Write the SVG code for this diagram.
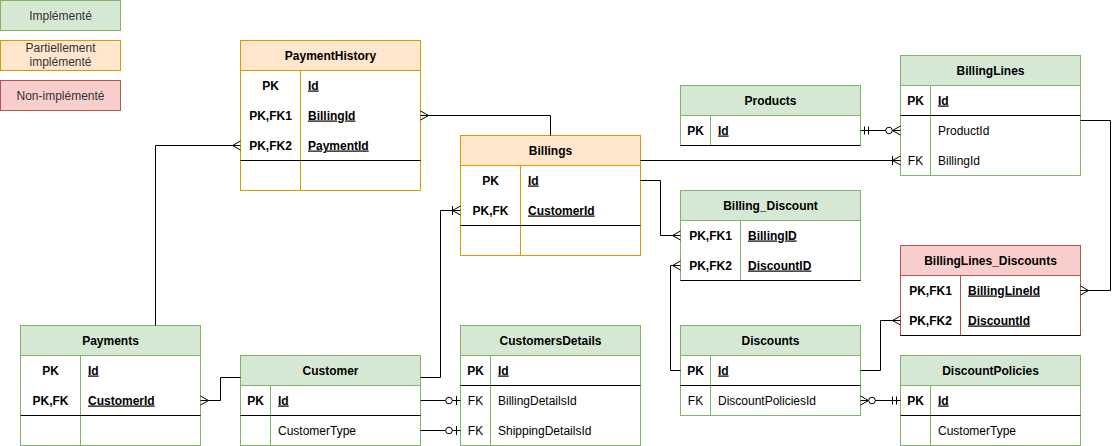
<svg xmlns="http://www.w3.org/2000/svg" width="1119" height="446" viewBox="0 0 1119 446">
<style>
text{font-family:"Liberation Sans",Arial,Helvetica,sans-serif;font-size:12px;fill:#000}
.lg{fill:#333333;text-anchor:middle}
.h{font-weight:bold;text-anchor:middle}
.kb{font-weight:bold;text-anchor:middle}
.k{text-anchor:middle}
.nb{font-weight:bold;text-decoration:underline}
.g .box{fill:#ffffff;stroke:#82b366}
.g .hd{fill:#d5e8d4;stroke:#82b366}
.g .dv{stroke:#82b366}
.o .box{fill:#ffffff;stroke:#d79b00}
.o .hd{fill:#ffe6cc;stroke:#d79b00}
.o .dv{stroke:#d79b00}
.r .box{fill:#ffffff;stroke:#b85450}
.r .hd{fill:#f8cecc;stroke:#b85450}
.r .dv{stroke:#b85450}
.sep{stroke:#000000;stroke-width:1}
.conn path{fill:none;stroke:#000000;stroke-width:1}
.mk{fill:none;stroke:#000000;stroke-width:1}
.mc{fill:#ffffff;stroke:#000000;stroke-width:1}
</style>
<defs>
<marker id="many" markerUnits="userSpaceOnUse" viewBox="-20 -10 22 20" refX="0" refY="0" markerWidth="22" markerHeight="20" orient="auto-start-reverse" overflow="visible">
<path class="mk" d="M0,-4.5 L-8,0 L0,4.5"/>
</marker>
<marker id="oneMany" markerUnits="userSpaceOnUse" viewBox="-20 -10 22 20" refX="0" refY="0" markerWidth="22" markerHeight="20" orient="auto-start-reverse" overflow="visible">
<path class="mk" d="M0,-4.5 L-8,0 L0,4.5 M-8,-4.5 L-8,4.5"/>
</marker>
<marker id="mandOne" markerUnits="userSpaceOnUse" viewBox="-20 -10 22 20" refX="0" refY="0" markerWidth="22" markerHeight="20" orient="auto-start-reverse" overflow="visible">
<path class="mk" d="M-4,-4 L-4,4 M-8,-4 L-8,4"/>
</marker>
<marker id="zeroMany" markerUnits="userSpaceOnUse" viewBox="-20 -10 22 20" refX="0" refY="0" markerWidth="22" markerHeight="20" orient="auto-start-reverse" overflow="visible">
<path class="mk" d="M0,-4.5 L-8,0 L0,4.5"/>
<circle class="mc" cx="-11.5" cy="0" r="3.3"/>
</marker>
<marker id="zeroOne" markerUnits="userSpaceOnUse" viewBox="-20 -10 22 20" refX="0" refY="0" markerWidth="22" markerHeight="20" orient="auto-start-reverse" overflow="visible">
<path class="mk" d="M-4,-4.5 L-4,4.5"/>
<circle class="mc" cx="-11.5" cy="0" r="3.3"/>
</marker>
</defs>

<g id="legend">
<g id="legend-implemented" class="g"><rect class="hd" x="0.5" y="0.5" width="120" height="30"/><text class="lg" x="60.5" y="19.5">Implémenté</text></g>
<g id="legend-partial" class="o"><rect class="hd" x="0.5" y="40.5" width="120" height="30"/><text class="lg" x="60.5" y="52">Partiellement</text><text class="lg" x="60.5" y="66">implémenté</text></g>
<g id="legend-not" class="r"><rect class="hd" x="0.5" y="80.5" width="120" height="30"/><text class="lg" x="60.5" y="99.5">Non-implémenté</text></g>
</g>

<g id="PaymentHistory" class="o">
<rect class="box" x="240.5" y="40.5" width="180" height="150"/>
<rect class="hd" x="240.5" y="40.5" width="180" height="30"/>
<line class="dv" x1="300.5" y1="70.5" x2="300.5" y2="190.5"/>
<line class="sep" x1="240.5" y1="160.5" x2="420.5" y2="160.5"/>
<text class="h" x="330.5" y="59.5">PaymentHistory</text>
<text class="kb" x="270.5" y="89.5">PK</text><text class="nb" x="308" y="89.5">Id</text>
<text class="kb" x="270.5" y="119.5">PK,FK1</text><text class="nb" x="308" y="119.5">BillingId</text>
<text class="kb" x="270.5" y="149.5">PK,FK2</text><text class="nb" x="308" y="149.5">PaymentId</text>
</g>

<g id="Billings" class="o">
<rect class="box" x="460.5" y="135.5" width="180" height="120"/>
<rect class="hd" x="460.5" y="135.5" width="180" height="30"/>
<line class="dv" x1="520.5" y1="165.5" x2="520.5" y2="255.5"/>
<line class="sep" x1="460.5" y1="225.5" x2="640.5" y2="225.5"/>
<text class="h" x="550.5" y="154.5">Billings</text>
<text class="kb" x="490.5" y="184.5">PK</text><text class="nb" x="528" y="184.5">Id</text>
<text class="kb" x="490.5" y="214.5">PK,FK</text><text class="nb" x="528" y="214.5">CustomerId</text>
</g>

<g id="Products" class="g">
<rect class="box" x="680.5" y="85.5" width="180" height="60"/>
<rect class="hd" x="680.5" y="85.5" width="180" height="30"/>
<line class="dv" x1="710.5" y1="115.5" x2="710.5" y2="145.5"/>
<line class="sep" x1="680.5" y1="145.5" x2="860.5" y2="145.5"/>
<text class="h" x="770.5" y="104.5">Products</text>
<text class="kb" x="695.5" y="134.5">PK</text><text class="nb" x="718" y="134.5">Id</text>
</g>

<g id="BillingLines" class="g">
<rect class="box" x="900.5" y="55.5" width="180" height="120"/>
<rect class="hd" x="900.5" y="55.5" width="180" height="30"/>
<line class="dv" x1="930.5" y1="85.5" x2="930.5" y2="175.5"/>
<line class="sep" x1="900.5" y1="115.5" x2="1080.5" y2="115.5"/>
<text class="h" x="990.5" y="74.5">BillingLines</text>
<text class="kb" x="915.5" y="104.5">PK</text><text class="nb" x="938" y="104.5">Id</text>
<text x="938" y="134.5">ProductId</text>
<text class="k" x="915.5" y="164.5">FK</text><text x="938" y="164.5">BillingId</text>
</g>

<g id="Billing_Discount" class="g">
<rect class="box" x="680.5" y="190.5" width="180" height="90"/>
<rect class="hd" x="680.5" y="190.5" width="180" height="30"/>
<line class="dv" x1="740.5" y1="220.5" x2="740.5" y2="280.5"/>
<line class="sep" x1="680.5" y1="280.5" x2="860.5" y2="280.5"/>
<text class="h" x="770.5" y="209.5">Billing_Discount</text>
<text class="kb" x="710.5" y="239.5">PK,FK1</text><text class="nb" x="748" y="239.5">BillingID</text>
<text class="kb" x="710.5" y="269.5">PK,FK2</text><text class="nb" x="748" y="269.5">DiscountID</text>
</g>

<g id="BillingLines_Discounts" class="r">
<rect class="box" x="900.5" y="245.5" width="180" height="90"/>
<rect class="hd" x="900.5" y="245.5" width="180" height="30"/>
<line class="dv" x1="960.5" y1="275.5" x2="960.5" y2="335.5"/>
<line class="sep" x1="900.5" y1="335.5" x2="1080.5" y2="335.5"/>
<text class="h" x="990.5" y="264.5">BillingLines_Discounts</text>
<text class="kb" x="930.5" y="294.5">PK,FK1</text><text class="nb" x="968" y="294.5">BillingLineId</text>
<text class="kb" x="930.5" y="324.5">PK,FK2</text><text class="nb" x="968" y="324.5">DiscountId</text>
</g>

<g id="Payments" class="g">
<rect class="box" x="20.5" y="325.5" width="180" height="120"/>
<rect class="hd" x="20.5" y="325.5" width="180" height="30"/>
<line class="dv" x1="80.5" y1="355.5" x2="80.5" y2="445.5"/>
<line class="sep" x1="20.5" y1="415.5" x2="200.5" y2="415.5"/>
<text class="h" x="110.5" y="344.5">Payments</text>
<text class="kb" x="50.5" y="374.5">PK</text><text class="nb" x="88" y="374.5">Id</text>
<text class="kb" x="50.5" y="404.5">PK,FK</text><text class="nb" x="88" y="404.5">CustomerId</text>
</g>

<g id="Customer" class="g">
<rect class="box" x="240.5" y="355.5" width="180" height="90"/>
<rect class="hd" x="240.5" y="355.5" width="180" height="30"/>
<line class="dv" x1="270.5" y1="385.5" x2="270.5" y2="445.5"/>
<line class="sep" x1="240.5" y1="415.5" x2="420.5" y2="415.5"/>
<text class="h" x="330.5" y="374.5">Customer</text>
<text class="kb" x="255.5" y="404.5">PK</text><text class="nb" x="278" y="404.5">Id</text>
<text x="278" y="434.5">CustomerType</text>
</g>

<g id="CustomersDetails" class="g">
<rect class="box" x="460.5" y="325.5" width="180" height="120"/>
<rect class="hd" x="460.5" y="325.5" width="180" height="30"/>
<line class="dv" x1="490.5" y1="355.5" x2="490.5" y2="445.5"/>
<line class="sep" x1="460.5" y1="385.5" x2="640.5" y2="385.5"/>
<text class="h" x="550.5" y="344.5">CustomersDetails</text>
<text class="kb" x="475.5" y="374.5">PK</text><text class="nb" x="498" y="374.5">Id</text>
<text class="k" x="475.5" y="404.5">FK</text><text x="498" y="404.5">BillingDetailsId</text>
<text class="k" x="475.5" y="434.5">FK</text><text x="498" y="434.5">ShippingDetailsId</text>
</g>

<g id="Discounts" class="g">
<rect class="box" x="680.5" y="325.5" width="180" height="90"/>
<rect class="hd" x="680.5" y="325.5" width="180" height="30"/>
<line class="dv" x1="710.5" y1="355.5" x2="710.5" y2="415.5"/>
<line class="sep" x1="680.5" y1="385.5" x2="860.5" y2="385.5"/>
<text class="h" x="770.5" y="344.5">Discounts</text>
<text class="kb" x="695.5" y="374.5">PK</text><text class="nb" x="718" y="374.5">Id</text>
<text class="k" x="695.5" y="404.5">FK</text><text x="718" y="404.5">DiscountPoliciesId</text>
</g>

<g id="DiscountPolicies" class="g">
<rect class="box" x="900.5" y="355.5" width="180" height="90"/>
<rect class="hd" x="900.5" y="355.5" width="180" height="30"/>
<line class="dv" x1="930.5" y1="385.5" x2="930.5" y2="445.5"/>
<line class="sep" x1="900.5" y1="415.5" x2="1080.5" y2="415.5"/>
<text class="h" x="990.5" y="374.5">DiscountPolicies</text>
<text class="kb" x="915.5" y="404.5">PK</text><text class="nb" x="938" y="404.5">Id</text>
<text x="938" y="434.5">CustomerType</text>
</g>

<g id="connectors" class="conn">
<path d="M550.5,135.5 V115.5 H420.5" marker-end="url(#many)"/>
<path d="M155.5,325.5 V145.5 H240.5" marker-end="url(#many)"/>
<path d="M640.5,160.5 H900.5" marker-end="url(#oneMany)"/>
<path d="M640.5,180.5 H660.5 V235.5 H680.5" marker-end="url(#many)"/>
<path d="M420.5,377.5 H440.5 V210.5 H460.5" marker-end="url(#oneMany)"/>
<path d="M240.5,377.5 H220.5 V400.5 H200.5" marker-end="url(#many)"/>
<path d="M420.5,400.5 H460.5" marker-end="url(#zeroOne)"/>
<path d="M420.5,430.5 H460.5" marker-end="url(#zeroOne)"/>
<path d="M860.5,130.5 H900.5" marker-start="url(#mandOne)" marker-end="url(#zeroMany)"/>
<path d="M1080.5,120.5 H1110.5 V290.5 H1080.5" marker-end="url(#many)"/>
<path d="M680.5,370.5 H670.5 V265.5 H680.5" marker-end="url(#many)"/>
<path d="M860.5,370.5 H880.5 V320.5 H900.5" marker-end="url(#many)"/>
<path d="M860.5,400.5 H900.5" marker-start="url(#zeroMany)" marker-end="url(#mandOne)"/>
</g>
</svg>
